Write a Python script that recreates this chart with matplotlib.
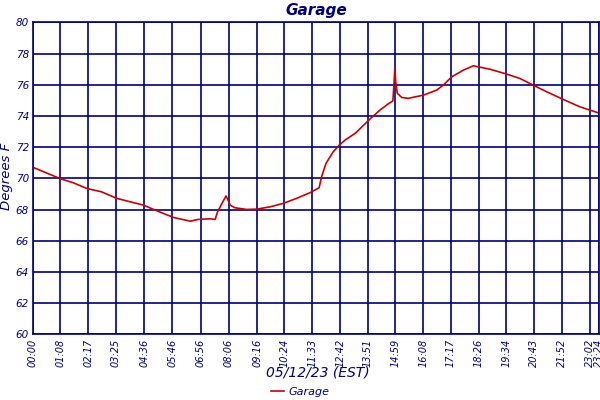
import matplotlib
matplotlib.use("Agg")
import matplotlib.pyplot as plt

# sample times (minutes after midnight) and temperatures
times = [0, 69, 100, 133, 170, 208, 241, 274, 303, 348, 390, 410, 439, 452, 458,
         471, 479, 486, 489, 501, 530, 555, 589, 621, 654, 687, 710, 716, 727,
         745, 760, 774, 800, 836, 861, 880, 893, 896, 898, 900, 904, 915, 931,
         969, 1002, 1018, 1039, 1068, 1093, 1105, 1134, 1175, 1208, 1241, 1275,
         1316, 1357, 1403]
temps = [70.71, 69.97, 69.72, 69.36, 69.14, 68.72, 68.50, 68.29, 67.97, 67.50,
         67.26, 67.37, 67.41, 67.37, 67.86, 68.50, 68.87, 68.50, 68.29, 68.12,
         68.01, 68.03, 68.18, 68.40, 68.72, 69.08, 69.40, 70.10, 70.96, 71.71,
         72.13, 72.45, 72.90, 73.80, 74.38, 74.75, 74.97, 76.19, 77.05, 76.19,
         75.45, 75.19, 75.13, 75.34, 75.66, 75.98, 76.51, 76.94, 77.22, 77.15,
         77.00, 76.69, 76.41, 75.98, 75.55, 75.06, 74.59, 74.20]

tick_labels = ["00:00", "01:08", "02:17", "03:25", "04:36", "05:46", "06:56",
               "08:06", "09:16", "10:24", "11:33", "12:42", "13:51", "14:59",
               "16:08", "17:17", "18:26", "19:34", "20:43", "21:52", "23:02",
               "23:24"]
y_ticks = [60, 62, 64, 66, 68, 70, 72, 74, 76, 78, 80]

def to_min(s):
    h, m = s.split(":")
    return int(h) * 60 + int(m)

navy = "#000080"
fig = plt.figure(figsize=(6, 4), dpi=100)
ax = fig.add_axes([0.055, 0.164, 0.943, 0.78])
ax.plot(times, temps, color="#cc0000", lw=1.2, label="Garage")
ax.set_xlim(0, 1404)
ax.set_ylim(60, 80)
ax.set_xticks([to_min(s) for s in tick_labels])
ax.set_xticklabels(tick_labels, rotation=90, fontsize=7, style="italic", color=navy)
ax.set_yticks(y_ticks)
ax.set_yticklabels([str(v) for v in y_ticks], fontsize=7.5, style="italic", color=navy)
ax.tick_params(length=0, pad=3)
ax.grid(True, color=navy, lw=1.2)
for sp in ax.spines.values():
    sp.set_color(navy)
    sp.set_linewidth(1.2)
ax.set_axisbelow(True)
ax.set_title("Garage", fontsize=11, style="italic", fontweight="bold", color=navy, pad=5)
fig.text(0.011, 0.558, "Degrees F", rotation=90, ha="center", va="center",
         fontsize=9.5, style="italic", color=navy)
fig.text(0.53, 0.068, "05/12/23 (EST)", ha="center", va="center", fontsize=10,
         style="italic", color=navy)
leg = fig.legend(loc="center", bbox_to_anchor=(0.5, 0.02), frameon=False,
                 fontsize=8, handlelength=1.2, handletextpad=0.4)
for t in leg.get_texts():
    t.set_color(navy)
    t.set_style("italic")
fig.savefig("out.png", dpi=100)
